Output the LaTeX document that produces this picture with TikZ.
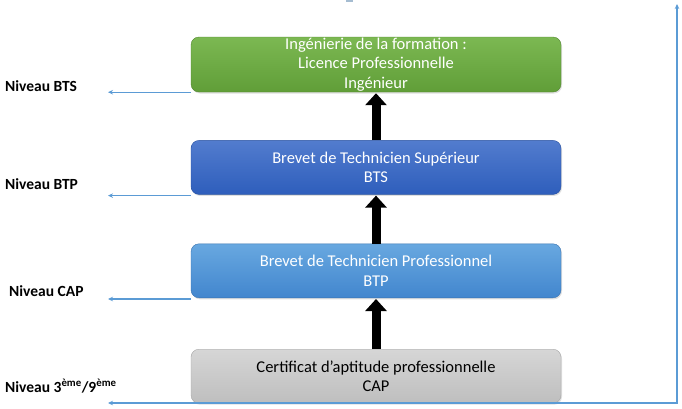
\documentclass[tikz,border=0pt]{standalone}
\usepackage{fontspec}
\setmainfont{Carlito}
\usetikzlibrary{positioning,arrows.meta,shadows}

\definecolor{linkblue}{RGB}{91,155,213}
\definecolor{greentop}{RGB}{124,184,82}
\definecolor{greenbot}{RGB}{96,158,56}
\definecolor{btstop}{RGB}{82,124,206}
\definecolor{btsbot}{RGB}{46,94,188}
\definecolor{btptop}{RGB}{104,168,224}
\definecolor{btpbot}{RGB}{66,134,206}
\definecolor{captop}{RGB}{214,214,214}
\definecolor{capbot}{RGB}{190,190,190}

\begin{document}
\begin{tikzpicture}[x=1pt, y=-1pt, >={Stealth[length=5pt,width=4.5pt]},
                    stagebox/.style={rectangle, rounded corners=8pt, minimum width=370pt, minimum height=54pt, inner sep=0pt, align=center, text=white,
                                     font=\fontsize{16.5}{19.5}\selectfont, drop shadow={opacity=0.25, shadow xshift=1pt, shadow yshift=-1.5pt}},
                    ingnode/.style={stagebox, minimum height=55pt, top color=greentop, bottom color=greenbot, draw=greenbot!85!black, thin},
                    btsnode/.style={stagebox, top color=btstop, bottom color=btsbot, draw=btsbot!85!black, thin},
                    btpnode/.style={stagebox, top color=btptop, bottom color=btpbot, draw=btpbot!85!black, thin},
                    capnode/.style={stagebox, text=black, top color=captop, bottom color=capbot, draw=black!35, thin},
                    levelnode/.style={anchor=west, inner sep=0pt, font=\fontsize{15.5}{18}\selectfont\bfseries},
                    levelline/.style={draw=linkblue, line width=1.1pt},
                    uparrow/.style={line width=9pt, -{Triangle[length=12pt,width=21pt]}}]
    \useasboundingbox (0,0) rectangle (682,408);
    \fill[linkblue!60!gray!60] (346,0) rectangle (353,2);
    % nodes
    \node[ingnode]      (ing)       at (376,64.5)          {Ingénierie de la formation :\\Licence Professionnelle\\Ingénieur};
    \node[btsnode]      (bts)       [below=48pt of ing]    {Brevet de Technicien Supérieur\\BTS};
    \node[btpnode]      (btp)       [below=49pt of bts]    {Brevet de Technicien Professionnel\\BTP};
    \node[capnode]      (cap)       [below=51pt of btp]    {Certificat d’aptitude professionnelle\\CAP};
    \node[levelnode]    (lvlbts)    at (5,86)              {Niveau BTS};
    \node[levelnode]    (lvlbtp)    at (5,184)             {Niveau BTP};
    \node[levelnode]    (lvlcap)    at (9,291)             {Niveau CAP};
    \node[levelnode]    (lvlbase)   at (5,386)             {Niveau 3\textsuperscript{ème}/9\textsuperscript{ème}};
    \coordinate (tipx)   at (108,0);
    \coordinate (corner) at (677,403);
    \coordinate (topend) at (677,4);
    % lines
    \draw[uparrow] (bts.north) -- ([yshift=-1pt]ing.south);
    \draw[uparrow] (btp.north) -- ([yshift=-1pt]bts.south);
    \draw[uparrow] (cap.north) -- ([yshift=-1pt]btp.south);
    \draw[levelline, ->] (ing.south west) -- (ing.south west -| tipx);
    \draw[levelline, ->] ([yshift=-1pt]bts.south west) -- ([yshift=-1pt]bts.south west -| tipx);
    \draw[levelline, ->] ([yshift=-1pt]btp.south west) -- ([yshift=-1pt]btp.south west -| tipx);
    \draw[levelline, <->] (corner -| tipx) -- (corner) -- (topend);
\end{tikzpicture}
\end{document}
